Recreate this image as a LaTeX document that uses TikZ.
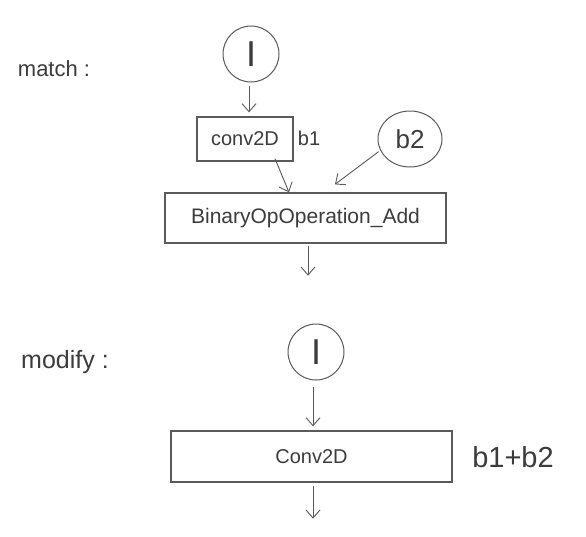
\documentclass[tikz,border=0pt]{standalone}
\usepackage{fontspec}
\setmainfont{Liberation Sans}
\usetikzlibrary{arrows.meta,shapes.geometric}
\definecolor{ink}{RGB}{90,90,90}
\definecolor{txt}{RGB}{60,60,60}
\begin{document}
\begin{tikzpicture}[x=1pt,y=-1pt,
  boxnode/.style={draw=ink,line width=1.3pt,rectangle,inner sep=0pt,text=txt},
  ringnode/.style={draw=ink,line width=1pt,circle,inner sep=0pt,minimum size=56pt,text=txt,font=\fontsize{36}{38}\selectfont},
  ovalnode/.style={draw=ink,line width=1pt,ellipse,inner sep=0pt,text=txt},
  lbl/.style={text=txt,inner sep=0pt},
  flow/.style={draw=ink,line width=0.9pt,-{Straight Barb[length=8pt,width=14pt]}}]
\useasboundingbox[fill=white] (0,0) rectangle (586,536);

% match part
\node[lbl,font=\fontsize{22}{26}\selectfont] (match) at (54,69) {match :};
\node[ringnode] (in1) at (251,54) {I};
\node[boxnode,minimum width=96pt,minimum height=44pt,font=\fontsize{20}{24}\selectfont] (conv) at (245,139) {conv2D};
\node[lbl,font=\fontsize{20}{24}\selectfont] (b1) at (309,138) {b1};
\node[ovalnode,minimum width=64pt,minimum height=56pt,font=\fontsize{26}{30}\selectfont] (b2) at (410,139) {b2};
\node[boxnode,minimum width=281pt,minimum height=50pt,font=\fontsize{21}{25}\selectfont] (bin) at (305.5,218) {BinaryOpOperation\_Add};
\coordinate (b2end) at ([xshift=29.5pt,yshift=8pt]bin.north);
\coordinate (out1) at ([xshift=2.5pt,yshift=-32pt]bin.south);

\draw[flow,shorten <=3pt,shorten >=4pt] ([xshift=-2pt]in1.south) -- ([xshift=4pt]conv.north);
\draw[flow] ([xshift=30pt,yshift=3pt]conv.south) -- ([xshift=-16.5pt]bin.north);
\draw[flow,shorten <=2pt] (b2.201) -- (b2end);
\draw[flow,shorten <=2pt] ([xshift=2.5pt]bin.south) -- (out1);

% modify part
\node[lbl,font=\fontsize{25}{29}\selectfont] (modify) at (65,362) {modify :};
\node[ringnode] (in2) at (316,352) {I};
\node[boxnode,minimum width=281pt,minimum height=51pt,font=\fontsize{20}{24}\selectfont] (conv2) at (311.5,456.5) {Conv2D};
\node[lbl,font=\fontsize{29}{33}\selectfont] (b12) at (513,457) {b1+b2};
\coordinate (out2) at ([xshift=1.5pt,yshift=-36pt]conv2.south);

\draw[flow,shorten <=6pt,shorten >=4pt] ([xshift=-3pt]in2.south) -- ([xshift=1.5pt]conv2.north);
\draw[flow,shorten <=3pt] ([xshift=1.5pt]conv2.south) -- (out2);
\end{tikzpicture}
\end{document}
